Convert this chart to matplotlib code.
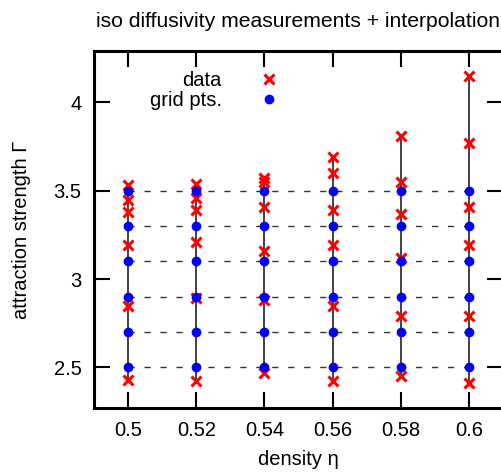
import numpy as np
import matplotlib.pyplot as plt

plt.rcParams['font.family'] = ['Liberation Sans', 'DejaVu Sans']

# density values (columns)
eta = [0.5, 0.52, 0.54, 0.56, 0.58, 0.6]

meas = [
    [3.53, 3.45, 3.38, 3.19, 2.85, 2.43],
    [3.54, 3.46, 3.39, 3.21, 2.89, 2.42],
    [3.57, 3.55, 3.41, 3.16, 2.88, 2.47],
    [3.69, 3.60, 3.39, 3.19, 2.85, 2.42],
    [3.81, 3.55, 3.37, 3.12, 2.79, 2.45],
    [4.15, 3.77, 3.41, 3.19, 2.79, 2.41],
]

# interpolation grid in Gamma
grid = [2.5, 2.7, 2.9, 3.1, 3.3, 3.5]

xticks = [0.5, 0.52, 0.54, 0.56, 0.58, 0.6]
xticklabels = ["0.5", "0.52", "0.54", "0.56", "0.58", "0.6"]
yticks = [2.5, 3.0, 3.5, 4.0]
yticklabels = ["2.5", "3", "3.5", "4"]

fs = 14.5

fig = plt.figure(figsize=(5.02, 4.75), dpi=100)
ax = fig.add_axes([94/502, 66.7/475, 409/502, 357.3/475])

# horizontal dashed grid lines
for g in grid:
    ax.plot([eta[0], eta[-1]], [g, g], color='#333333', lw=1.0,
            dashes=(4.5, 7), zorder=1)

# vertical lines spanning the measurements
for x, m in zip(eta, meas):
    ax.plot([x, x], [min(m), max(m)], color='#222222', lw=1.2, zorder=1)

# data crosses
xs = np.repeat(eta, [len(m) for m in meas])
ys = np.concatenate(meas)
ax.plot(xs, ys, ls='none', marker='x', color='red', ms=6.5, mew=2.2,
        label='data', zorder=2)

# grid points
gx, gy = np.meshgrid(eta, grid)
ax.plot(gx.ravel(), gy.ravel(), ls='none', marker='o', color='blue',
        ms=6, mec='blue', label='grid pts.', zorder=3)

ax.set_xlim(0.49, 0.61)
ax.set_ylim(2.268, 4.291)
ax.set_xticks(xticks)
ax.set_xticklabels(xticklabels)
ax.set_yticks(yticks)
ax.set_yticklabels(yticklabels)

ax.tick_params(direction='in', length=11.5, width=1.5, labelsize=fs,
               top=True, right=True)
ax.tick_params(axis='x', pad=9)
ax.tick_params(axis='y', pad=9)
for s in ax.spines.values():
    s.set_linewidth(2.2)

ax.set_xlabel('density η', fontsize=fs, labelpad=7)
ax.set_ylabel('attraction strength Γ', fontsize=fs, labelpad=16)
ax.set_title('iso diffusivity measurements + interpolation', fontsize=15.2,
             pad=17)

ax.legend(loc='upper right', bbox_to_anchor=(0.477, 0.943), frameon=False,
          markerfirst=False, fontsize=fs, handlelength=2, handletextpad=1.34,
          borderpad=0, borderaxespad=0, labelspacing=0.05)

fig.savefig('out.png', dpi=100)
